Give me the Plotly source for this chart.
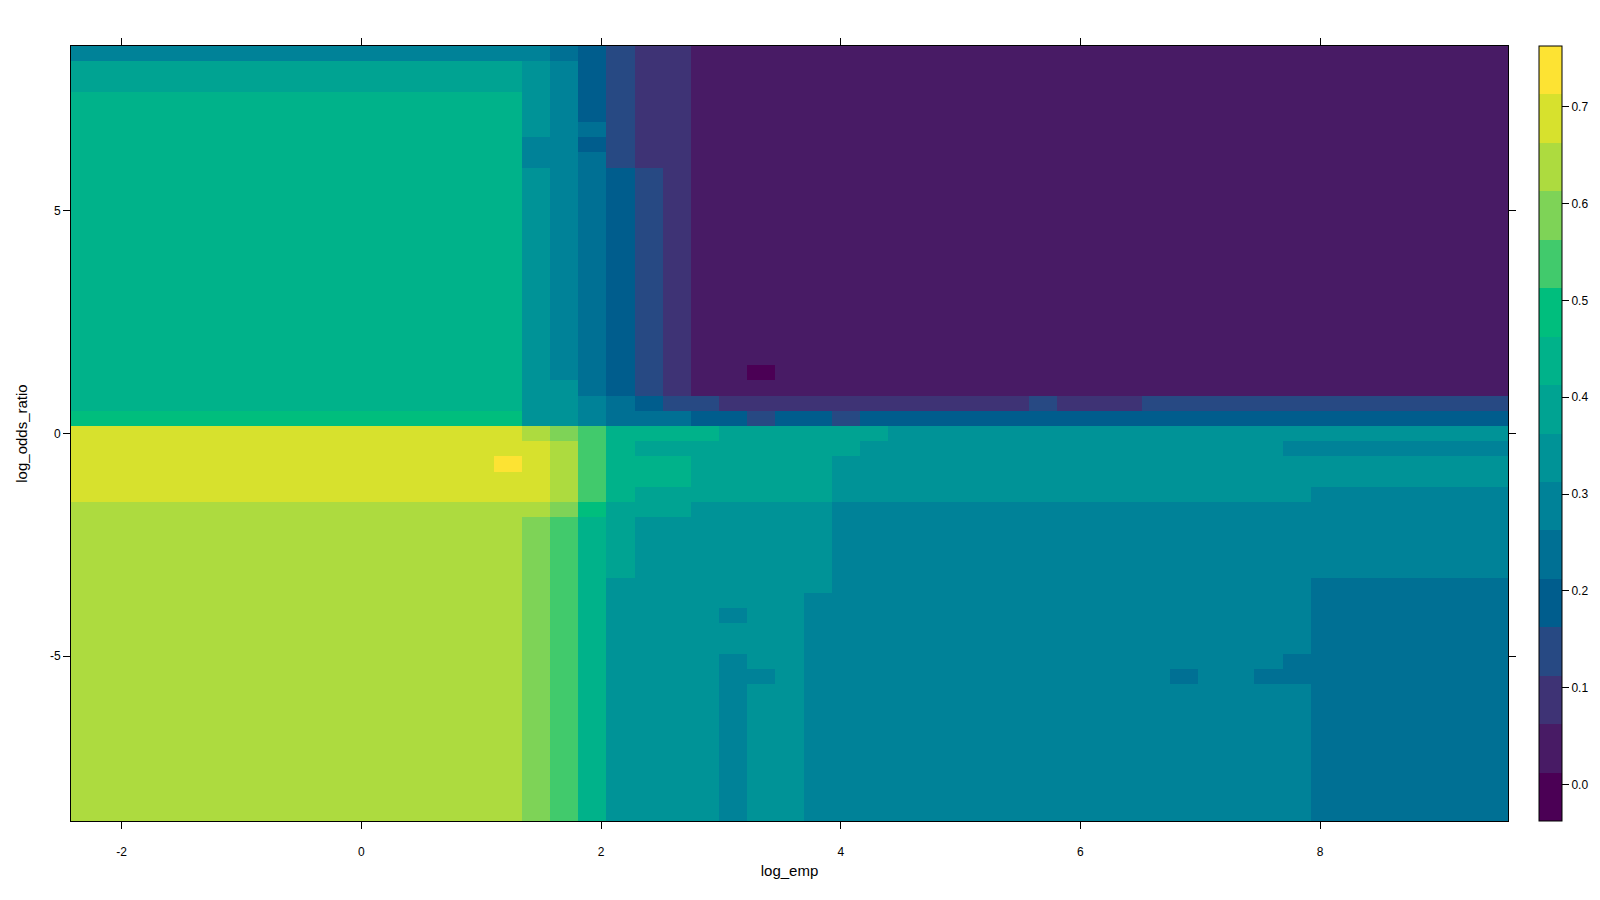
import numpy as np
import plotly.graph_objects as go

# ---- data -------------------------------------------------------------
# grid of prediction points (cell centres)
x_first, x_last, n_x = -2.3045, 9.4495, 51   # log_emp
y_first, y_last, n_y = -8.533, 8.533, 51     # log_odds_ratio

# colour-band breaks (16 equal intervals, as in the key)
z_low, z_high, n_bands = -0.0375, 0.7625, 16

# level (band index, hex digit 0..f) of every cell; first string = top row
level_rows = [
    "666666666666666665432211111111111111111111111111111",
    "888888888888888876432211111111111111111111111111111",
    "888888888888888876432211111111111111111111111111111",
    "999999999999999976432211111111111111111111111111111",
    "999999999999999976432211111111111111111111111111111",
    "999999999999999976532211111111111111111111111111111",
    "999999999999999966432211111111111111111111111111111",
    "999999999999999966532211111111111111111111111111111",
    "999999999999999976543211111111111111111111111111111",
    "999999999999999976543211111111111111111111111111111",
    "999999999999999976543211111111111111111111111111111",
    "999999999999999976543211111111111111111111111111111",
    "999999999999999976543211111111111111111111111111111",
    "999999999999999976543211111111111111111111111111111",
    "999999999999999976543211111111111111111111111111111",
    "999999999999999976543211111111111111111111111111111",
    "999999999999999976543211111111111111111111111111111",
    "999999999999999976543211111111111111111111111111111",
    "999999999999999976543211111111111111111111111111111",
    "999999999999999976543211111111111111111111111111111",
    "999999999999999976543211111111111111111111111111111",
    "999999999999999976543211011111111111111111111111111",
    "999999999999999977543211111111111111111111111111111",
    "999999999999999977654332222222222232223333333333333",
    "aaaaaaaaaaaaaaaa77655544344344444444444444444444444",
    "eeeeeeeeeeeeeeeedcb99998888887777777777777777777777",
    "eeeeeeeeeeeeeeeeedb98888888877777777777777766666666",
    "eeeeeeeeeeeeeeefedb99988888777777777777777777777777",
    "eeeeeeeeeeeeeeeeedb99988888777777777777777777777777",
    "eeeeeeeeeeeeeeeeedb98888888777777777777777776666666",
    "dddddddddddddddddca88877777666666666666666666666666",
    "ddddddddddddddddcb987777777666666666666666666666666",
    "ddddddddddddddddcb987777777666666666666666666666666",
    "ddddddddddddddddcb987777777666666666666666666666666",
    "ddddddddddddddddcb987777777666666666666666666666666",
    "ddddddddddddddddcb977777777666666666666666665555555",
    "ddddddddddddddddcb977777776666666666666666665555555",
    "ddddddddddddddddcb977776776666666666666666665555555",
    "ddddddddddddddddcb977777776666666666666666665555555",
    "ddddddddddddddddcb977777776666666666666666665555555",
    "ddddddddddddddddcb977776776666666666666666655555555",
    "ddddddddddddddddcb977776676666666666666566555555555",
    "ddddddddddddddddcb977776776666666666666666665555555",
    "ddddddddddddddddcb977776776666666666666666665555555",
    "ddddddddddddddddcb977776776666666666666666665555555",
    "ddddddddddddddddcb977776776666666666666666665555555",
    "ddddddddddddddddcb977776776666666666666666665555555",
    "ddddddddddddddddcb977776776666666666666666665555555",
    "ddddddddddddddddcb977776776666666666666666665555555",
    "ddddddddddddddddcb977776776666666666666666665555555",
    "ddddddddddddddddcb977776776666666666666666665555555",
]

x_ticks = [-2, 0, 2, 4, 6, 8]
x_tick_labels = ["-2", "0", "2", "4", "6", "8"]
y_ticks = [-5, 0, 5]
y_tick_labels = ["-5", "0", "5"]
key_ticks = [0.0, 0.1, 0.2, 0.3, 0.4, 0.5, 0.6, 0.7]
key_tick_labels = ["0.0", "0.1", "0.2", "0.3", "0.4", "0.5", "0.6", "0.7"]

# ---- palette: hcl.colors(16, "viridis") --------------------------------
def hcl_to_hex(L, C, H):
    WY, Wu, Wv = 100.0, 0.1978398, 0.4683363
    h = np.deg2rad(H)
    U, V = C * np.cos(h), C * np.sin(h)
    if L <= 0:
        return "#000000"
    Y = WY * (((L + 16) / 116) ** 3 if L > 7.999592 else L / 903.3)
    u = U / (13 * L) + Wu
    v = V / (13 * L) + Wv
    X = 9.0 * Y * u / (4 * v)
    Z = -X / 3 - 5 * Y + 3 * Y / v
    def g(t):
        t = 1.055 * t ** (1 / 2.4) - 0.055 if t > 0.00304 else 12.92 * t
        return min(1.0, max(0.0, t))
    r = g((3.240479 * X - 1.537150 * Y - 0.498535 * Z) / WY)
    gg = g((-0.969256 * X + 1.875992 * Y + 0.041556 * Z) / WY)
    b = g((0.055648 * X - 0.204043 * Y + 1.057311 * Z) / WY)
    return "#%02X%02X%02X" % (round(r * 255), round(gg * 255), round(b * 255))


def hcl_viridis(n):
    out = []
    for i in np.linspace(1, 0, n):
        H = 75 - (75 - 300) * i
        C = 95 - (95 - 40) * i ** 1.0
        L = 90 - (90 - 15) * i ** 1.1
        out.append(hcl_to_hex(L, C, H))
    return out


band_colors = hcl_viridis(n_bands)
colorscale = []
for k, col in enumerate(band_colors):
    colorscale.append([k / n_bands, col])
    colorscale.append([(k + 1) / n_bands, col])

# ---- build the matrix ----------------------------------------------------
x_centres = np.linspace(x_first, x_last, n_x)
y_centres = np.linspace(y_first, y_last, n_y)
step = (z_high - z_low) / n_bands
z = [[z_low + (int(ch, 16) + 0.5) * step for ch in row] for row in level_rows[::-1]]

font = "Liberation Sans, Arial, sans-serif"

fig = go.Figure(
    go.Heatmap(
        x=x_centres,
        y=y_centres,
        z=z,
        zmin=z_low,
        zmax=z_high,
        colorscale=colorscale,
        colorbar=dict(
            x=1.0218, xanchor="left", xpad=0,
            y=0.5, yanchor="middle", ypad=0,
            len=1.0, lenmode="fraction",
            thickness=23,
            outlinewidth=1, outlinecolor="black",
            tickvals=key_ticks, ticktext=key_tick_labels,
            ticks="outside", ticklen=7, tickcolor="black",
            tickfont=dict(family=font, size=12, color="black"),
        ),
        hoverinfo="x+y+z",
    )
)

axis_common = dict(
    showline=True, linecolor="black", linewidth=1, mirror="ticks",
    ticks="outside", ticklen=7, tickcolor="black", tickwidth=1,
    showgrid=False, zeroline=False,
    tickfont=dict(family=font, size=12, color="black"),
)

# the page body adds an 8px offset, so the figure is 8px smaller on each axis
fig.update_layout(
    width=1592, height=892,
    margin=dict(l=63, r=92, t=38, b=79, autoexpand=False),
    paper_bgcolor="white", plot_bgcolor="white",
    xaxis=dict(
        range=[-2.422, 9.567], tickvals=x_ticks, ticktext=x_tick_labels,
        title=dict(text="log_emp", font=dict(family=font, size=15, color="black"), standoff=7),
        ticklabelstandoff=13,
        **axis_common,
    ),
    yaxis=dict(
        range=[-8.704, 8.704], tickvals=y_ticks, ticktext=y_tick_labels,
        title=dict(text="log_odds_ratio", font=dict(family=font, size=15, color="black"), standoff=18),
        **axis_common,
    ),
)

fig.write_html("out.html")
